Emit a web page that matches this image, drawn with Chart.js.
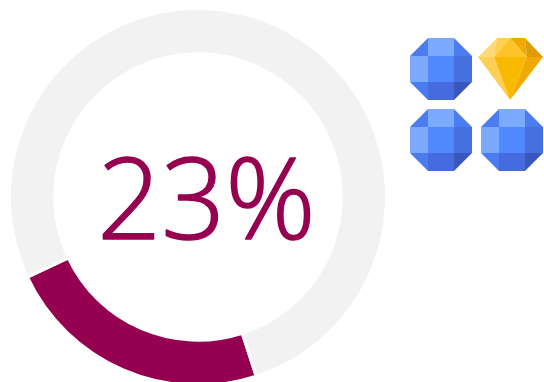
<!DOCTYPE html>
<html>
<head>
<meta charset="utf-8">
<script src="https://cdn.jsdelivr.net/npm/chart.js@4"></script>
<style>
    html, body { margin: 0; padding: 0; width: 544px; height: 382px; overflow: hidden; background: #fff; }
    #donut { position: absolute; left: 0; top: 0; }
    #gems { position: absolute; left: 0; top: 0; }
</style>
</head>
<body>
<canvas id="donut" width="396" height="394"></canvas>

<!-- gem pictograms next to the ring -->
<svg id="gems" width="544" height="382" xmlns="http://www.w3.org/2000/svg">
    <defs>
        <g id="blueGem">
            <polygon points="0,18 18,18 18,0" fill="#4b7df0"/>
            <polygon points="44,0 44,18 62,18" fill="#4b7df0"/>
            <polygon points="0,44 18,44 18,62" fill="#4a7cee"/>
            <polygon points="44,44 62,44 44,62" fill="#3a57bd"/>
            <rect x="18" y="0" width="26" height="18" fill="#7caaff"/>
            <rect x="0" y="18" width="18" height="26" fill="#7caaff"/>
            <rect x="18" y="18" width="26" height="26" fill="#5088ff"/>
            <rect x="44" y="18" width="18" height="26" fill="#466fe0"/>
            <rect x="18" y="44" width="26" height="18" fill="#456bdf"/>
        </g>
        <g id="goldGem">
            <polygon points="0,19 19,0 16,19" fill="#ffd978"/>
            <polygon points="19,0 32,0 16,19" fill="#fdd04e"/>
            <polygon points="32,0 16,19 49,19" fill="#fdc328"/>
            <polygon points="32,0 47,0 49,19" fill="#efa900"/>
            <polygon points="47,0 65,19 49,19" fill="#de9c00"/>
            <polygon points="0,19 16,19 32,62" fill="#fdd055"/>
            <polygon points="16,19 49,19 32,62" fill="#f8b900"/>
            <polygon points="49,19 65,19 32,62" fill="#f0a900"/>
        </g>
    </defs>
    <use href="#blueGem" x="410" y="38"/>
    <use href="#goldGem" x="478" y="38"/>
    <use href="#blueGem" x="410" y="109"/>
    <use href="#blueGem" x="481" y="109"/>
</svg>

<script>
const categories = ["Share", "Rest"];
const shareValues = [23, 77];
const sliceColors = ["#960050", "#f2f2f2"];
const centerLabel = "23%";

/* --- big number in the hole --- */
const centerText = {
    id: "centerText",
    afterDatasetsDraw(chart) {
        const arc = chart.getDatasetMeta(0).data[0];
        const ctx = chart.ctx;
        ctx.save();
        ctx.font = "300 112px 'Open Sans'";
        ctx.fillStyle = sliceColors[0];
        ctx.strokeStyle = sliceColors[0];
        ctx.lineWidth = 1.6;
        ctx.lineJoin = "round";
        ctx.textAlign = "center";
        ctx.textBaseline = "alphabetic";
        ctx.fillText(centerLabel, arc.x + 8.5, arc.y + 42);
        // the light face alone is too thin at this size
        ctx.strokeText(centerLabel, arc.x + 8.5, arc.y + 42);
        ctx.restore();
    }
};

new Chart(document.getElementById("donut"), {
    type: "doughnut",
    data: {
        labels: categories,
        datasets: [{
            data: shareValues,
            backgroundColor: sliceColors,
            borderColor: "#ffffff",
            borderWidth: 3
        }]
    },
    options: {
        responsive: false,
        animation: false,
        rotation: 162,
        cutout: "76%",
        layout: { padding: 7 },
        plugins: {
            legend: { display: false },
            tooltip: { enabled: false }
        }
    },
    plugins: [centerText]
});
</script>
</body>
</html>
